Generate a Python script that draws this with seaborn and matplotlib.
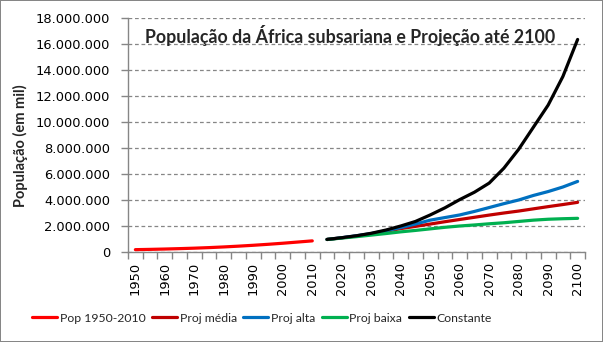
import matplotlib
matplotlib.use("Agg")
import matplotlib.pyplot as plt
from matplotlib.ticker import FuncFormatter, MultipleLocator, FixedLocator
import numpy as np
import pandas as pd
import seaborn as sns

# Population of sub-Saharan Africa (thousands)
hist_years = [1950, 1955, 1960, 1965, 1970, 1975, 1980, 1985, 1990, 1995, 2000, 2005, 2010]
hist_pop = [180000, 202000, 228000, 259000, 295000, 338000, 390000, 450000, 517000,
            592000, 674000, 765000, 856000]

proj_years = [2015, 2020, 2025, 2030, 2035, 2040, 2045, 2050, 2055, 2060,
              2065, 2070, 2075, 2080, 2085, 2090, 2095, 2100]
proj_media = [962000, 1090000, 1230000, 1390000, 1590000, 1800000, 1970000, 2150000,
              2330000, 2500000, 2670000, 2840000, 3000000, 3150000, 3320000, 3490000,
              3650000, 3820000]
proj_alta = [962000, 1100000, 1250000, 1420000, 1640000, 1880000, 2150000, 2450000,
             2650000, 2850000, 3120000, 3420000, 3720000, 4000000, 4350000, 4650000,
             5000000, 5430000]
proj_baixa = [962000, 1070000, 1180000, 1300000, 1420000, 1550000, 1660000, 1780000,
              1900000, 2000000, 2080000, 2170000, 2250000, 2350000, 2450000, 2520000,
              2560000, 2590000]
constante = [970000, 1100000, 1250000, 1440000, 1690000, 2000000, 2350000, 2850000,
             3400000, 4030000, 4600000, 5300000, 6450000, 7900000, 9600000, 11300000,
             13500000, 16350000]

series_names = ["Pop 1950-2010", "Proj média", "Proj alta", "Proj baixa", "Constante"]
series_colors = ["#FF0000", "#C00000", "#0070C0", "#00B050", "#000000"]

frames = [pd.DataFrame({"ano": hist_years, "pop": hist_pop, "serie": series_names[0]})]
for name, vals in zip(series_names[1:], [proj_media, proj_alta, proj_baixa, constante]):
    frames.append(pd.DataFrame({"ano": proj_years, "pop": vals, "serie": name}))
df = pd.concat(frames, ignore_index=True)

sns.set_theme(style="white")
plt.rcParams["font.family"] = ["Lato", "DejaVu Sans"]

fig = plt.figure(figsize=(6.03, 3.42), dpi=100, edgecolor="#868686", linewidth=1.2)
ax = fig.add_axes([128 / 603, 1 - 252 / 342, (585 - 128) / 603, (252 - 18) / 342])

sns.lineplot(data=df, x="ano", y="pop", hue="serie", hue_order=series_names,
             palette=series_colors, linewidth=2.3, ax=ax, legend=True)

ax.set_xlim(1947.5, 2102.5)
ax.set_ylim(0, 18000000)

tick_font = {"family": "DejaVu Sans", "size": 9.4}
ax.yaxis.set_major_locator(MultipleLocator(2000000))
ax.yaxis.set_major_formatter(FuncFormatter(lambda v, _: f"{int(round(v)):,}".replace(",", ".")))
ax.xaxis.set_major_locator(FixedLocator(list(range(1950, 2101, 10))))
ax.xaxis.set_minor_locator(FixedLocator(list(np.arange(1947.5, 2103, 5))))
ax.tick_params(axis="x", which="major", length=0, pad=7, labelrotation=90, colors="black")
ax.tick_params(axis="x", which="minor", length=5, width=1, color="#868686", direction="out")
ax.tick_params(axis="y", which="major", length=5, width=1, color="#868686", direction="out",
               labelcolor="black", pad=8)
ax.tick_params(axis="y", which="minor", length=0)
for lbl in ax.get_xticklabels() + ax.get_yticklabels():
    lbl.set_fontfamily(tick_font["family"])
    lbl.set_fontsize(tick_font["size"])
ax.xaxis.set_ticks_position("bottom")
ax.yaxis.set_ticks_position("left")

ax.grid(axis="y", color="#868686", linestyle=(0, (3.0, 2.2)), linewidth=0.9)
ax.grid(axis="x", visible=False)
for side in ["top", "right"]:
    ax.spines[side].set_visible(False)
for side in ["left", "bottom"]:
    ax.spines[side].set_color("#868686")
    ax.spines[side].set_linewidth(1)

ax.set_xlabel("")
ax.set_ylabel("População (em mil)", fontsize=10.5, fontweight="bold")
ax.yaxis.set_label_coords(-0.218, 0.453)

fig.text(350 / 603, 1 - 36 / 342, "População da África subsariana e Projeção até 2100",
         ha="center", va="center", fontsize=12.8, fontweight="bold")

handles, labels = ax.get_legend_handles_labels()
ax.legend_.remove()
fig.legend(handles, labels, loc="center", bbox_to_anchor=(262 / 603, 1 - 318 / 342),
           ncol=5, frameon=False, fontsize=8.8, handlelength=2.05, handletextpad=0.2,
           columnspacing=0.55, borderaxespad=0)

fig.savefig("out.png", dpi=100, edgecolor=fig.get_edgecolor())
